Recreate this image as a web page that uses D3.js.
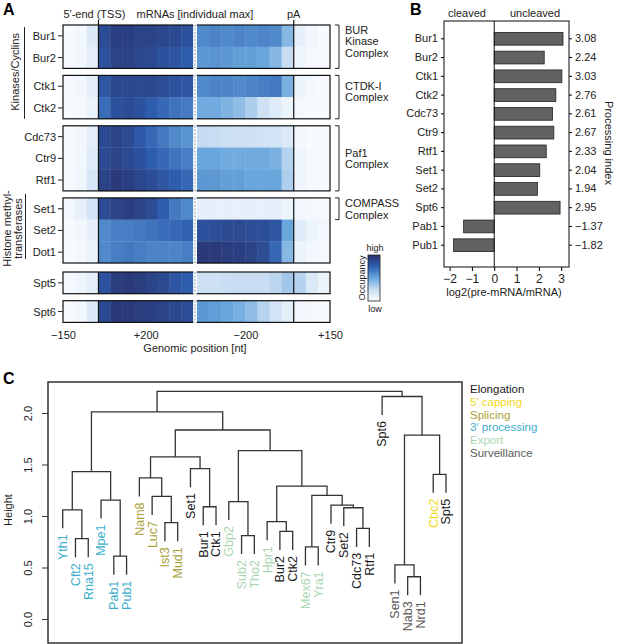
<!doctype html>
<html lang="en">
<head>
<meta charset="utf-8">
<script src="https://cdn.jsdelivr.net/npm/d3@7"></script>
<style>
  body { margin: 0; background: #fff; }
  svg { font-family: "Liberation Sans", Arial, Helvetica, sans-serif; }
  .axis text { font-size: 11px; fill: #222; }
  .lbl { font-size: 11px; fill: #222; }
  .panel { font-size: 16px; font-weight: bold; }
</style>
</head>
<body>
<svg width="617" height="644"></svg>
<script>
// ---------------- data ----------------
// panel A: occupancy (0 = low, 1 = high), 50 nt bins
const heatGroups = [["Bur1","Bur2"],["Ctk1","Ctk2"],["Cdc73","Ctr9","Rtf1"],["Set1","Set2","Dot1"],["Spt5"],["Spt6"]];
const tssBins = [-150,-100,-50,0,50,100,150,200,250,300,350];   // around TSS
const paBins  = [-400,-350,-300,-250,-200,-150,-100,-50,0,50,100]; // around pA
const occTss = {
  Bur1:  [0.02,0.05,0.15,0.85,0.92,0.92,0.9,0.9,0.88,0.86,0.82],
  Bur2:  [0.02,0.05,0.12,0.82,0.9,0.9,0.88,0.86,0.82,0.8,0.76],
  Ctk1:  [0.02,0.05,0.12,0.8,0.88,0.87,0.86,0.88,0.85,0.82,0.8],
  Ctk2:  [0.02,0.03,0.08,0.7,0.82,0.85,0.82,0.76,0.72,0.68,0.65],
  Cdc73: [0.02,0.05,0.12,0.86,0.9,0.86,0.78,0.72,0.66,0.6,0.56],
  Ctr9:  [0.02,0.05,0.14,0.86,0.9,0.86,0.82,0.76,0.72,0.68,0.64],
  Rtf1:  [0.03,0.06,0.18,0.9,0.95,0.92,0.88,0.85,0.8,0.76,0.72],
  Set1:  [0.05,0.1,0.2,0.85,0.9,0.93,0.9,0.85,0.76,0.66,0.6],
  Set2:  [0.02,0.05,0.1,0.6,0.64,0.64,0.66,0.68,0.7,0.72,0.74],
  Dot1:  [0.02,0.04,0.08,0.6,0.64,0.66,0.64,0.62,0.62,0.62,0.64],
  Spt5:  [0.03,0.06,0.12,0.82,0.93,0.95,0.93,0.9,0.86,0.8,0.76],
  Spt6:  [0.02,0.05,0.15,0.86,0.95,0.95,0.93,0.92,0.9,0.88,0.85]
};
const occPa = {
  Bur1:  [0.6,0.62,0.6,0.62,0.6,0.62,0.6,0.42,0.1,0.05,0.02],
  Bur2:  [0.55,0.56,0.55,0.52,0.52,0.5,0.42,0.25,0.06,0.03,0.02],
  Ctk1:  [0.6,0.62,0.62,0.6,0.62,0.64,0.66,0.45,0.08,0.04,0.02],
  Ctk2:  [0.48,0.48,0.44,0.4,0.32,0.22,0.14,0.08,0.03,0.02,0.02],
  Cdc73: [0.26,0.25,0.23,0.22,0.22,0.2,0.2,0.15,0.04,0.02,0.02],
  Ctr9:  [0.5,0.5,0.48,0.48,0.48,0.48,0.45,0.3,0.06,0.03,0.02],
  Rtf1:  [0.55,0.55,0.52,0.52,0.5,0.5,0.5,0.32,0.06,0.03,0.02],
  Set1:  [0.1,0.1,0.1,0.1,0.1,0.1,0.1,0.08,0.05,0.03,0.03],
  Set2:  [0.82,0.84,0.86,0.86,0.85,0.84,0.8,0.5,0.14,0.08,0.05],
  Dot1:  [0.95,0.95,0.93,0.92,0.9,0.85,0.72,0.42,0.08,0.05,0.03],
  Spt5:  [0.22,0.22,0.24,0.25,0.25,0.25,0.28,0.35,0.3,0.16,0.08],
  Spt6:  [0.55,0.53,0.5,0.46,0.4,0.3,0.2,0.12,0.05,0.03,0.02]
};
const complexes = [
  {group: 0, rows: 2, text: ["BUR","Kinase","Complex"]},
  {group: 1, rows: 2, text: ["CTDK-I","Complex"]},
  {group: 2, rows: 3, text: ["Paf1","Complex"]},
  {group: 3, rows: 1, text: ["COMPASS","Complex"]}
];

// panel B: processing index
const piNames  = ["Bur1","Bur2","Ctk1","Ctk2","Cdc73","Ctr9","Rtf1","Set1","Set2","Spt6","Pab1","Pub1"];
const piValues = [3.08,2.24,3.03,2.76,2.61,2.67,2.33,2.04,1.94,2.95,-1.37,-1.82];

// panel C: hierarchical clustering
const leafOrder = ["Yth1","Cft2","Rna15","Mpe1","Pab1","Pub1","Nam8","Luc7","Ist3","Mud1","Set1","Bur1","Ctk1",
  "Gbp2","Sub2","Tho2","Hpr1","Bur2","Ctk2","Mex67","Yra1","Ctr9","Set2","Cdc73","Rtf1","Spt6","Sen1","Nab3","Nrd1","Cbc2","Spt5"];
const classNames  = ["Elongation","5′ capping","Splicing","3′ processing","Export","Surveillance"];
const classColors = ["#1a1a1a","#f2d91c","#a9a23a","#3aaecb","#aad6b4","#5a5a5a"];
const leafClass = {Yth1:3,Cft2:3,Rna15:3,Mpe1:3,Pab1:3,Pub1:3,Nam8:2,Luc7:2,Ist3:2,Mud1:2,Set1:0,Bur1:0,Ctk1:0,
  Gbp2:4,Sub2:4,Tho2:4,Hpr1:4,Bur2:0,Ctk2:0,Mex67:4,Yra1:4,Ctr9:0,Set2:0,Cdc73:0,Rtf1:0,Spt6:0,Sen1:5,Nab3:5,Nrd1:5,Cbc2:1,Spt5:0};
// [child, child, height]; numbers refer to earlier merges
const merges = [
  ["Cft2","Rna15",0.78], ["Yth1",0,1.06], ["Pab1","Pub1",0.61], ["Mpe1",2,1.155], [1,3,1.43],
  ["Ist3","Mud1",0.935], ["Luc7",5,1.19], ["Nam8",6,1.37], ["Bur1","Ctk1",1.09], ["Set1",8,1.46], [7,9,1.575],
  ["Sub2","Tho2",0.81], ["Gbp2",11,1.14], ["Bur2","Ctk2",0.85], ["Hpr1",13,0.945], ["Mex67","Yra1",0.70],
  ["Cdc73","Rtf1",0.88], ["Set2",16,1.08], ["Ctr9",17,1.105], [15,18,1.20], [14,19,1.29], [12,20,1.635],
  [10,21,1.835], [4,22,2.01], ["Nab3","Nrd1",0.41], ["Sen1",24,0.525], ["Cbc2","Spt5",1.405], [25,26,1.785],
  ["Spt6",27,2.16], [23,28,2.21]
];

// ---------------- drawing ----------------
const svg = d3.select("svg");
const color = d3.scaleLinear()
  .domain([0, 0.25, 0.5, 0.75, 1])
  .range(["#fbfdff", "#c8ddf2", "#68a6dc", "#2f5fb0", "#28306c"]);

function panelLetter(t, x, y) {
  svg.append("text").attr("class", "panel").attr("x", x).attr("y", y).text(t);
}
panelLetter("A", 3, 15);
panelLetter("B", 410, 15);
panelLetter("C", 3, 384);

// ---- A: heatmap ----
const xTss = d3.scaleLinear().domain([-150, 400]).range([63, 193]);
const xPa  = d3.scaleLinear().domain([-400, 150]).range([197, 330]);
const rowH = 21.7;
const gaps = [0, 7, 7, 7, 9, 7];
const A = svg.append("g");

let yCur = 25;
const boxes = [];
heatGroups.forEach((rows, gi) => {
  yCur += gaps[gi];
  const y0g = yCur;
  const g = A.append("g");
  rows.forEach((name, ri) => {
    const y0 = y0g + ri * rowH;
    g.selectAll(null).data(tssBins).enter().append("rect")
      .attr("x", d => xTss(d)).attr("y", y0)
      .attr("width", d => xTss(d + 50) - xTss(d) + 0.4).attr("height", rowH + 0.3)
      .attr("fill", (d, i) => color(occTss[name][i]));
    g.selectAll(null).data(paBins).enter().append("rect")
      .attr("x", d => xPa(d)).attr("y", y0)
      .attr("width", d => xPa(d + 50) - xPa(d) + 0.4).attr("height", rowH + 0.3)
      .attr("fill", (d, i) => color(occPa[name][i]));
    // row label + tick
    A.append("text").attr("class", "lbl").attr("x", 56).attr("y", y0 + rowH / 2 + 4)
      .attr("text-anchor", "end").text(name);
    A.append("line").attr("x1", 58).attr("x2", 63).attr("y1", y0 + rowH / 2).attr("y2", y0 + rowH / 2)
      .attr("stroke", "#222");
  });
  const h = rows.length * rowH;
  boxes.push({top: y0g, h});
  g.append("rect").attr("x", 63).attr("y", y0g).attr("width", 267).attr("height", h)
    .attr("fill", "none").attr("stroke", "#111").attr("stroke-width", 1.2);
  g.append("rect").attr("x", 193.3).attr("y", y0g - 1).attr("width", 3.4).attr("height", h + 2).attr("fill", "#fff");
  g.append("line").attr("x1", 195).attr("x2", 195).attr("y1", y0g).attr("y2", y0g + h)
    .attr("stroke", "#7d9dc2").attr("stroke-width", 1).attr("stroke-dasharray", "2,1.5");
  [xTss(0), xPa(0)].forEach(x => g.append("line").attr("x1", x).attr("x2", x)
    .attr("y1", gi === 0 ? y0g - 5 : y0g).attr("y2", y0g + h).attr("stroke", "#111").attr("stroke-width", 1.2));
  yCur += h;
});

A.append("text").attr("class", "lbl").attr("x", xTss(0) - 4).attr("y", 18).attr("text-anchor", "middle").text("5′-end (TSS)");
A.append("text").attr("class", "lbl").attr("x", 195).attr("y", 18).attr("text-anchor", "middle").text("mRNAs [individual max]");
A.append("text").attr("class", "lbl").attr("x", xPa(0)).attr("y", 18).attr("text-anchor", "middle").text("pA");

// x axis (two segments)
const axBottom = yCur;
const fmtPos = d => (d > 0 ? "+" : "−") + Math.abs(d);
A.append("g").attr("class", "axis").attr("transform", `translate(0,${axBottom})`)
  .call(d3.axisBottom(xTss).tickValues([-150, 200]).tickSize(0).tickPadding(9).tickFormat(fmtPos))
  .call(g => g.select(".domain").remove());
A.append("g").attr("class", "axis").attr("transform", `translate(0,${axBottom})`)
  .call(d3.axisBottom(xPa).tickValues([-200, 150]).tickSize(0).tickPadding(9).tickFormat(fmtPos))
  .call(g => g.select(".domain").remove());
A.append("text").attr("class", "lbl").attr("x", 195).attr("y", 352).attr("text-anchor", "middle")
  .text("Genomic position [nt]");

// left group annotations
A.append("text").attr("class", "lbl").attr("text-anchor", "middle")
  .attr("transform", `translate(19,${(boxes[0].top + boxes[1].top + boxes[1].h) / 2}) rotate(-90)`)
  .text("Kinases/Cyclins");
A.append("line").attr("x1", 24.5).attr("x2", 24.5).attr("y1", boxes[0].top + 2).attr("y2", boxes[1].top + boxes[1].h)
  .attr("stroke", "#222");
const hmY = boxes[3].top + boxes[3].h / 2 - 2;
A.append("text").attr("class", "lbl").attr("text-anchor", "middle")
  .attr("transform", `translate(11,${hmY}) rotate(-90)`).text("Histone methyl-");
A.append("text").attr("class", "lbl").attr("text-anchor", "middle")
  .attr("transform", `translate(22,${hmY}) rotate(-90)`).text("transferases");
A.append("line").attr("x1", 25.5).attr("x2", 25.5).attr("y1", boxes[3].top - 4).attr("y2", boxes[3].top + boxes[3].h - 4)
  .attr("stroke", "#222");

// right brackets
complexes.forEach(c => {
  const b = boxes[c.group];
  const y1 = b.top, y2 = b.top + c.rows * rowH;
  A.append("path").attr("d", `M335,${y1}H339V${y2}H335`).attr("fill", "none").attr("stroke", "#222");
  const n = c.text.length;
  const mid = c.rows === 1 ? (y1 + y2) / 2 : (c.rows === 2 ? y1 + 16 : (y1 + y2) / 2);
  c.text.forEach((t, i) => {
    A.append("text").attr("class", "lbl").attr("x", 345)
      .attr("y", mid + (i - (n - 1) / 2) * 11.5 + 4).text(t);
  });
});

// colour legend
const defs = svg.append("defs");
const grad = defs.append("linearGradient").attr("id", "occ").attr("x1", 0).attr("x2", 0).attr("y1", 1).attr("y2", 0);
color.domain().forEach(v => grad.append("stop").attr("offset", v).attr("stop-color", color(v)));
A.append("rect").attr("x", 368).attr("y", 255).attr("width", 12).attr("height", 46)
  .attr("fill", "url(#occ)").attr("stroke", "#222").attr("stroke-width", 0.8);
A.append("text").attr("x", 375).attr("y", 251).attr("text-anchor", "middle").style("font-size", "9px").attr("fill", "#222").text("high");
A.append("text").attr("x", 375).attr("y", 312).attr("text-anchor", "middle").style("font-size", "9px").attr("fill", "#222").text("low");
A.append("text").attr("transform", "translate(365,278) rotate(-90)").attr("text-anchor", "middle")
  .style("font-size", "9px").attr("fill", "#222").text("Occupancy");

// ---- B: bars ----
const B = svg.append("g");
const xB = d3.scaleLinear().domain([-2.25, 3.35]).range([444, 569]);
const yB = d3.scaleBand().domain(piNames).range([26.4, 257.6]).padding(0.32);
const fmt2 = d3.format(".2f");
B.selectAll("rect.bar").data(piNames).enter().append("rect").attr("class", "bar")
  .attr("x", (d, i) => xB(Math.min(0, piValues[i])))
  .attr("y", d => yB(d))
  .attr("width", (d, i) => Math.abs(xB(piValues[i]) - xB(0)))
  .attr("height", yB.bandwidth())
  .attr("fill", "#626262").attr("stroke", "#222").attr("stroke-width", 0.8);
B.append("rect").attr("x", 444).attr("y", 21).attr("width", 125).attr("height", 246)
  .attr("fill", "none").attr("stroke", "#222").attr("stroke-width", 1.1);
B.append("line").attr("x1", xB(0)).attr("x2", xB(0)).attr("y1", 21).attr("y2", 267).attr("stroke", "#111");
B.append("g").attr("class", "axis").attr("transform", "translate(444,0)")
  .call(d3.axisLeft(yB).tickSize(3).tickPadding(3))
  .call(g => g.select(".domain").remove());
B.append("g").attr("class", "axis").attr("transform", "translate(569,0)")
  .call(d3.axisRight(yB).tickSize(3).tickPadding(3).tickFormat(d => fmt2(piValues[piNames.indexOf(d)])))
  .call(g => g.select(".domain").remove());
B.append("g").attr("class", "axis").attr("transform", "translate(0,267)")
  .call(d3.axisBottom(xB).tickValues([-2, -1, 0, 1, 2, 3]).tickFormat(d3.format("d")).tickSize(4).tickPadding(3))
  .call(g => g.select(".domain").remove())
  .selectAll("text").style("font-size", "12px");
B.append("text").attr("class", "lbl").attr("x", 504).attr("y", 296).attr("text-anchor", "middle").text("log2(pre-mRNA/mRNA)");
B.append("text").attr("class", "lbl").attr("x", 467).attr("y", 17).attr("text-anchor", "middle").text("cleaved");
B.append("text").attr("class", "lbl").attr("x", 535).attr("y", 17).attr("text-anchor", "middle").text("uncleaved");
B.append("text").attr("class", "lbl").attr("transform", "translate(605,143) rotate(90)")
  .attr("text-anchor", "middle").text("Processing index");

// ---- C: dendrogram ----
const C = svg.append("g");
const xC = d3.scalePoint().domain(leafOrder).range([62.7, 446]);
const yC = d3.scaleLinear().domain([0, 2]).range([619, 413]);
const hang = 0.18;
const nodes = [];
const leafBottom = {};
function ref(r, h) {
  if (typeof r === "string") {
    leafBottom[r] = yC(h - hang);
    return {x: xC(r), y: yC(h - hang)};
  }
  return {x: nodes[r].x, y: yC(nodes[r].h)};
}
merges.forEach(([a, b, h]) => {
  const pa = ref(a, h), pb = ref(b, h);
  C.append("path")
    .attr("d", `M${pa.x},${pa.y}V${yC(h)}H${pb.x}V${pb.y}`)
    .attr("fill", "none").attr("stroke", "#333").attr("stroke-width", 1.3);
  nodes.push({x: (pa.x + pb.x) / 2, h});
});
C.selectAll("text.leaf").data(leafOrder).enter().append("text").attr("class", "leaf")
  .attr("transform", d => `translate(${xC(d)},${leafBottom[d] + 6}) rotate(-90)`)
  .attr("dy", "0.35em").attr("text-anchor", "end")
  .style("font-size", "12.5px")
  .attr("fill", d => classColors[leafClass[d]])
  .text(d => d);
C.append("rect").attr("x", 48).attr("y", 382).attr("width", 414).attr("height", 261)
  .attr("fill", "none").attr("stroke", "#333").attr("stroke-width", 1.5);
C.append("g").attr("class", "axis").attr("transform", "translate(48,0)")
  .call(d3.axisLeft(yC).tickValues([0, 0.5, 1, 1.5, 2]).tickFormat(d3.format(".1f")).tickSize(6))
  .call(g => g.select(".domain").remove())
  .call(g => g.selectAll("line").attr("stroke", "#333"))
  .selectAll("text")
  .attr("transform", "rotate(-90)").attr("x", 0).attr("y", -16).attr("dy", 0)
  .style("text-anchor", "middle");
C.append("text").attr("class", "lbl").attr("transform", "translate(12,510) rotate(-90)")
  .attr("text-anchor", "middle").text("Height");
C.selectAll("text.legend").data(classNames).enter().append("text").attr("class", "legend")
  .attr("x", 470).attr("y", (d, i) => 393 + i * 12.8)
  .style("font-size", "11.5px")
  .attr("fill", (d, i) => classColors[i])
  .text(d => d);
</script>
</body>
</html>
